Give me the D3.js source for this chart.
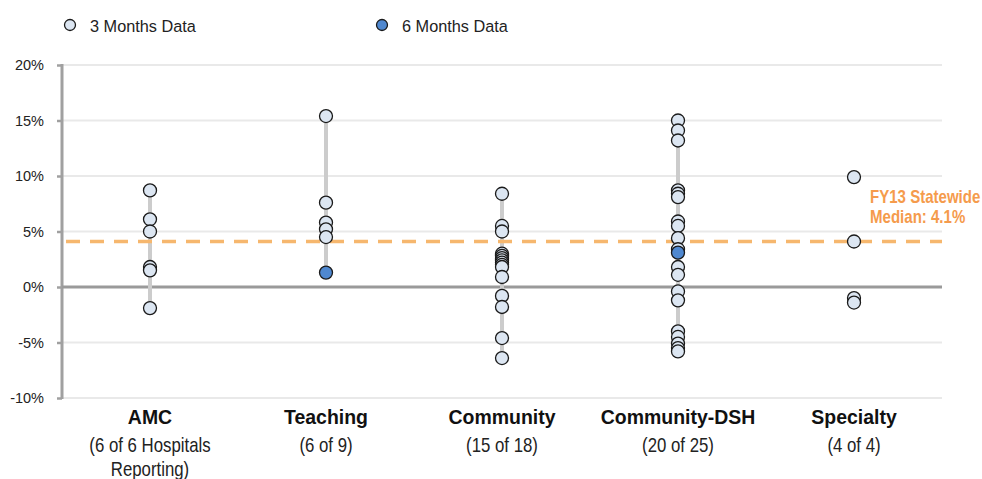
<!DOCTYPE html>
<html>
<head>
<meta charset="utf-8">
<script src="https://cdn.jsdelivr.net/npm/d3@7"></script>
<style>
body { margin:0; background:#fff; }
svg { display:block; font-family: "Liberation Sans", Arial, sans-serif; }
</style>
</head>
<body>
<svg id="chart" width="982" height="479"></svg>
<script>
// ---- data ----
const categories = ["AMC", "Teaching", "Community", "Community-DSH", "Specialty"];
const subLabels = [["(6 of 6 Hospitals", "Reporting)"], ["(6 of 9)"], ["(15 of 18)"], ["(20 of 25)"], ["(4 of 4)"]];
const threeMonths = [
  [8.7, 6.1, 5.0, 1.8, 1.5, -1.9],
  [15.4, 7.6, 5.8, 5.2, 4.5],
  [8.4, 5.5, 5.0, 3.0, 2.8, 2.6, 2.4, 2.2, 2.0, 1.8, 0.9, -0.8, -1.8, -4.6, -6.4],
  [15.0, 14.1, 13.2, 8.7, 8.4, 8.1, 5.9, 5.5, 4.4, 3.4, 1.8, 1.1, -0.4, -1.2, -4.0, -4.5, -5.1, -5.5, -5.8],
  [9.9, 4.1, -1.0, -1.4]
];
const sixMonths = [
  [],
  [1.3],
  [],
  [3.1],
  []
];
const showRange = [true, true, true, true, false];
const median = 4.1;
const medianLabel = ["FY13 Statewide", "Median: 4.1%"];
const yTicks = [-10, -5, 0, 5, 10, 15, 20];
const legendLabels = ["3 Months Data", "6 Months Data"];

(function () {
// ---- layout ----
const svg = d3.select("#chart");
const mLeft = 62, mRight = 942, mTop = 65, mBottom = 398;
const x = d3.scaleBand().domain(categories).range([mLeft, mRight]);
const y = d3.scaleLinear().domain([-10, 20]).range([mBottom, mTop]);
const lightFill = "#dce6f2", blueFill = "#4f88d0", ink = "#1a1a1a";
const r = 6.5;

function ctext(parent, tx, ty, sx, str) {
  return parent.append("text")
    .attr("transform", `translate(${tx},${ty}) scale(${sx},1)`)
    .text(str);
}

// gridlines
svg.append("g").selectAll("line").data(yTicks.filter(t => t !== 0))
  .join("line")
  .attr("x1", mLeft).attr("x2", mRight)
  .attr("y1", d => y(d)).attr("y2", d => y(d))
  .attr("stroke", "#e9e9e9").attr("stroke-width", 2);

// y axis
const yAxis = d3.axisLeft(y).tickValues(yTicks).tickFormat(d => d + "%").tickSize(5).tickPadding(13);
const ga = svg.append("g").attr("transform", `translate(${mLeft},0)`).call(yAxis);
ga.select(".domain").remove();
ga.selectAll(".tick line").attr("stroke", "#a0a0a0").attr("stroke-width", 2.5);
ga.selectAll(".tick text").attr("font-size", 14.5).attr("fill", "#222")
  .attr("font-family", "\"Liberation Sans\", Arial, sans-serif");
svg.append("line").attr("x1", mLeft).attr("x2", mLeft).attr("y1", y(20) - 1).attr("y2", y(-10) + 1)
  .attr("stroke", "#a0a0a0").attr("stroke-width", 3);

// zero line
svg.append("line").attr("x1", mLeft).attr("x2", mRight)
  .attr("y1", y(0)).attr("y2", y(0))
  .attr("stroke", "#9a9a9a").attr("stroke-width", 3);

// range bars
categories.forEach((c, i) => {
  if (!showRange[i]) return;
  const vals = threeMonths[i].concat(sixMonths[i]);
  svg.append("line")
    .attr("x1", x(c) + x.bandwidth() / 2).attr("x2", x(c) + x.bandwidth() / 2)
    .attr("y1", y(d3.max(vals))).attr("y2", y(d3.min(vals)))
    .attr("stroke", "#cccccc").attr("stroke-width", 4);
});

// median line
svg.append("line").attr("x1", mLeft + 4).attr("x2", mRight)
  .attr("y1", y(median)).attr("y2", y(median))
  .attr("stroke", "#f6b76e").attr("stroke-width", 3.5)
  .attr("stroke-dasharray", "14,10");
const mg = svg.append("g").attr("font-size", 17.5).attr("font-weight", "bold").attr("fill", "#f59b4c");
medianLabel.forEach((d, i) => ctext(mg, 870, y(median) - 38 + i * 20, 0.86, d));

// points
categories.forEach((c, i) => {
  const cx = x(c) + x.bandwidth() / 2;
  svg.append("g").selectAll("circle").data(threeMonths[i]).join("circle")
    .attr("cx", cx).attr("cy", d => y(d)).attr("r", r)
    .attr("fill", lightFill).attr("stroke", ink).attr("stroke-width", 1.3);
  svg.append("g").selectAll("circle").data(sixMonths[i]).join("circle")
    .attr("cx", cx).attr("cy", d => y(d)).attr("r", r)
    .attr("fill", blueFill).attr("stroke", ink).attr("stroke-width", 1.3);
});

// category labels
const cg = svg.append("g").attr("text-anchor", "middle");
categories.forEach((c, i) => {
  const cx = x(c) + x.bandwidth() / 2;
  ctext(cg, cx, 424, 0.95, c).attr("font-size", 20.5).attr("font-weight", "bold").attr("fill", "#111");
  subLabels[i].forEach((s, j) => {
    ctext(cg, cx, 452 + j * 24, 0.84, s).attr("font-size", 20).attr("fill", "#222");
  });
});

// legend
const legendX = [70, 382];
legendLabels.forEach((l, i) => {
  svg.append("circle").attr("cx", legendX[i]).attr("cy", 25).attr("r", 5.5)
    .attr("fill", i === 0 ? lightFill : blueFill).attr("stroke", ink).attr("stroke-width", 1.3);
  ctext(svg, legendX[i] + 20, 31.5, 0.97, l).attr("font-size", 16.8).attr("fill", "#222");
});
})();
</script>
</body>
</html>
